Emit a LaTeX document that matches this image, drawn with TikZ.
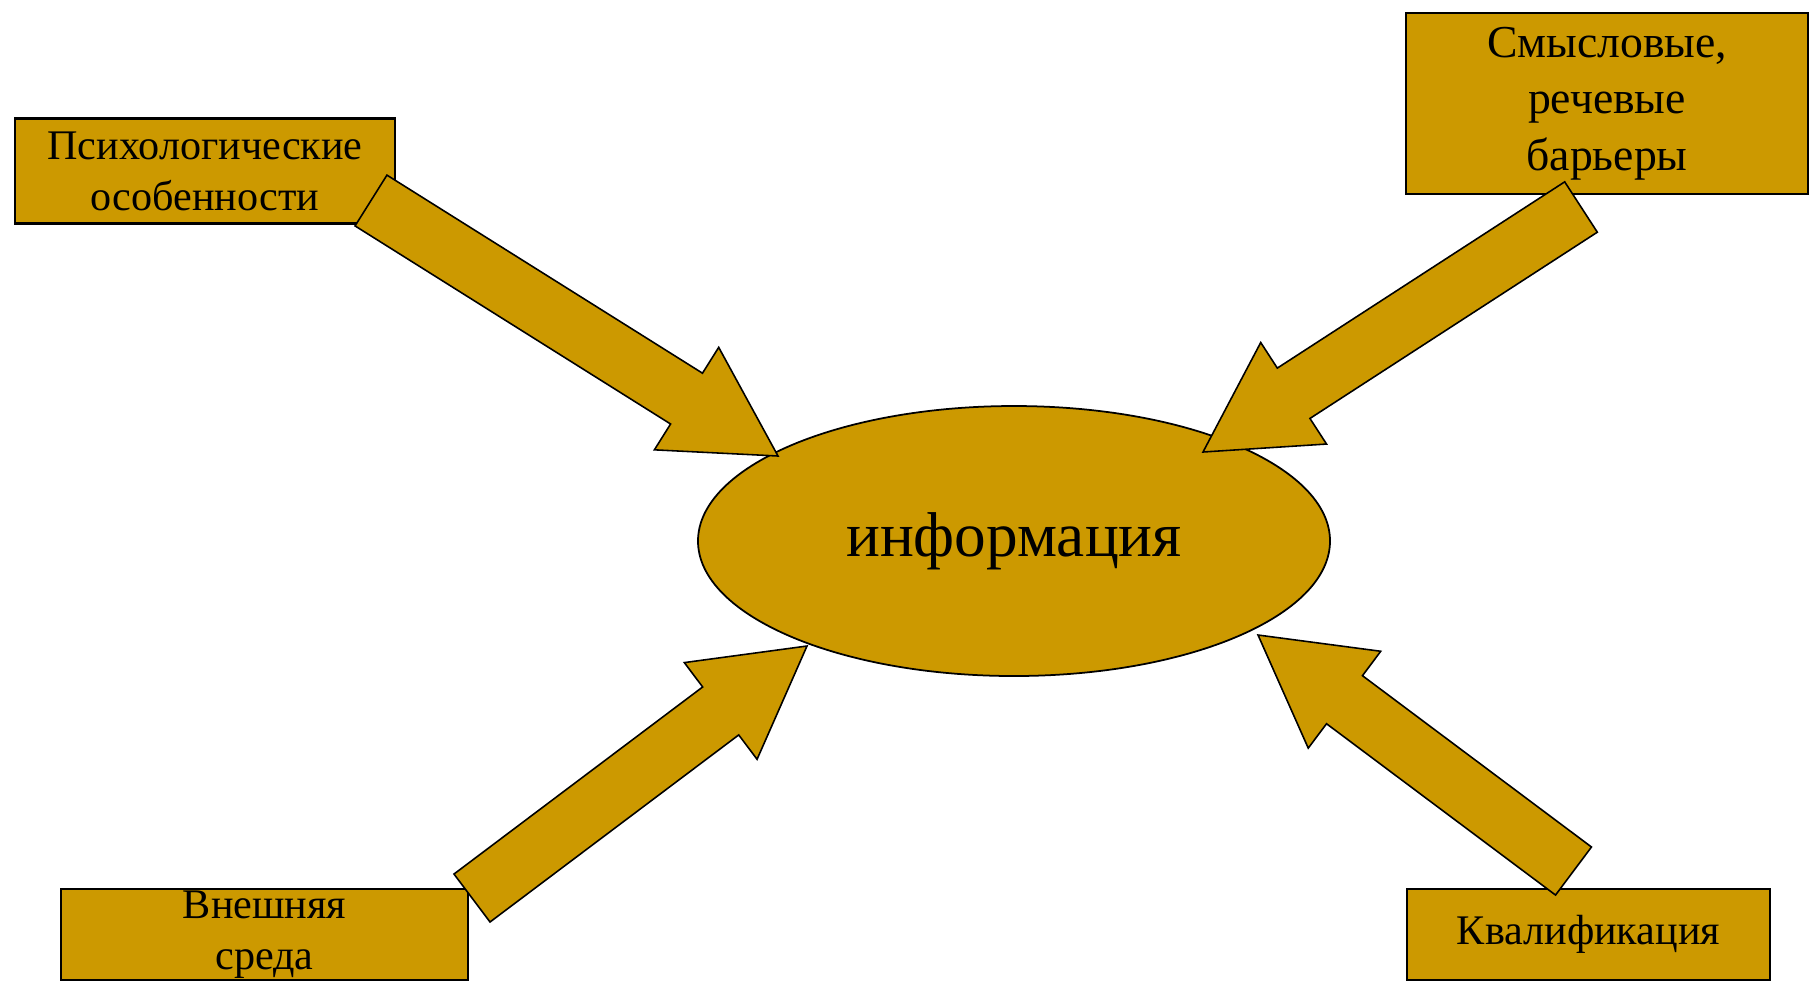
\documentclass[tikz,border=0pt]{standalone}
\usepackage{fontspec}
\setmainfont{Liberation Serif}
\usetikzlibrary{calc,shapes.geometric}
\definecolor{ochre}{RGB}{204,153,0}

\begin{document}
\begin{tikzpicture}[
  box/.style 2 args={
    draw=black, fill=ochre, line width=0.6pt,
    minimum width=#1, minimum height=#2,
    align=center, inner sep=0pt, outer sep=0pt,
    font=\fontsize{12}{14.5}\selectfont
  },
  oval/.style={
    ellipse, draw=black, fill=ochre, line width=0.5pt,
    minimum width=6.32cm, minimum height=2.70cm, inner sep=0pt,
    font=\fontsize{18}{21}\selectfont
  },
  fat/.style={draw=black, fill=ochre, line width=0.45pt, line join=miter}
]
\def\sw{0.30cm} \def\hw{0.605cm} \def\hl{1.08cm}

\useasboundingbox (0,0) rectangle (18.10,-9.83);

\node[oval] (info) at (10.14,-5.41) {информация};

\node[box={3.80cm}{1.05cm}] (psy) at (2.05,-1.71) {Психологические\\особенности};
\node[box={4.02cm}{1.81cm}, font=\fontsize{13}{16}\selectfont] (sem) at (16.07,-1.035)
  {Смысловые,\\речевые\\барьеры};
\node[box={4.07cm}{0.91cm}] (env) at (2.645,-9.345) {Внешняя\\среда};
\node[box={3.63cm}{0.91cm}] (qual) at (15.885,-9.345) {Квалификация};

\coordinate (t1) at ([shift={(-0.24,0.23)}]psy.south east);
\coordinate (h1) at ([shift={(-2.36,0.85)}]info.center);
\coordinate (t2) at ([shift={(-0.26,-0.13)}]sem.south);
\coordinate (h2) at ([shift={(1.89,0.89)}]info.center);
\coordinate (t3) at ([shift={(0.04,-0.09)}]env.north east);
\coordinate (h3) at ([shift={(-2.07,-1.05)}]info.center);
\coordinate (t4) at ([shift={(-0.15,0.18)}]qual.north);
\coordinate (h4) at ([shift={(2.44,-0.94)}]info.center);

\foreach \i in {1,...,4}{
  \coordinate (n\i) at ($(h\i)!\hl!(t\i)$);
  \draw[fat] ($(t\i)!\sw!90:(h\i)$) -- ($(n\i)!\sw!90:(h\i)$) -- ($(n\i)!\hw!90:(h\i)$) -- (h\i)
    -- ($(n\i)!\hw!-90:(h\i)$) -- ($(n\i)!\sw!-90:(h\i)$) -- ($(t\i)!\sw!-90:(h\i)$) -- cycle;
}
\end{tikzpicture}
\end{document}
